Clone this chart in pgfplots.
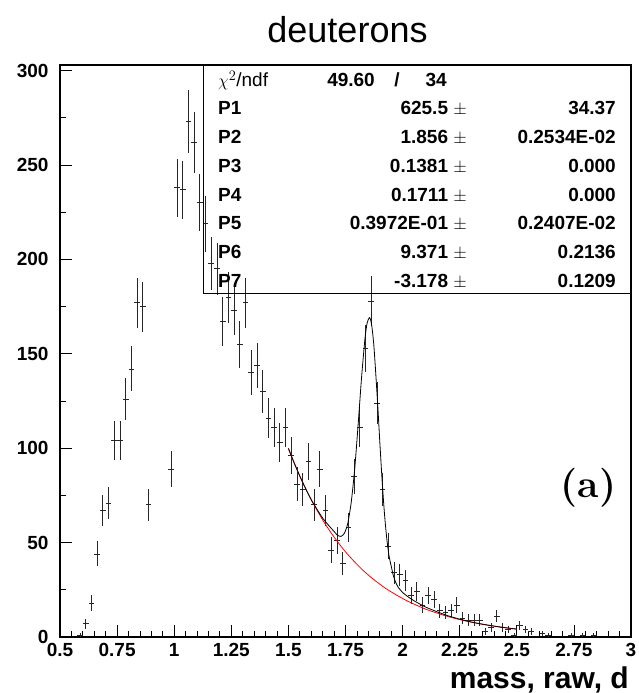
\documentclass[border=0pt]{standalone}
\usepackage{fontspec}
\setsansfont{Liberation Sans}
\usepackage{pgfplots}
\pgfplotsset{compat=1.18}
\usepackage{pgfplotstable}

\pgfplotstableread{
x y
0.5875 1
0.6125 7
0.6375 18
0.6625 44
0.6875 67
0.7125 71
0.7375 104
0.7625 104
0.7875 126
0.8125 142
0.8375 177
0.8625 175
0.8875 70
0.9875 89
1.0125 238
1.0375 237
1.0625 273
1.0875 262
1.1125 230
1.1375 219
1.1625 198
1.1875 195
1.2125 167
1.2375 180
1.2625 173
1.2875 155
1.3125 177
1.3375 140
1.3625 144
1.3875 130
1.4125 116
1.4375 111
1.4625 103
1.4875 111
1.5125 96
1.5375 81
1.5625 78
1.5875 93
1.6125 70
1.6375 89
1.6625 67
1.6875 46
1.7125 51
1.7375 39
1.7625 58
1.7875 85
1.8125 111
1.8375 153
1.8625 178
1.8875 124
1.9125 78
1.9375 48
1.9625 34
1.9875 33
2.0125 30
2.0375 22
2.0625 24
2.0875 17
2.1125 22
2.1375 20
2.1625 14
2.1875 13
2.2125 14
2.2375 17
2.2625 10
2.2875 9
2.3125 9
2.3375 9
2.3625 3
2.3875 5
2.4125 11
2.4375 5
2.4625 4
2.4875 1
2.5125 6
2.5375 4
2.5625 3
2.6125 2
2.6375 1
2.7375 1
2.7875 1
2.8375 1
}\datatable

\begin{document}
\begin{tikzpicture}
\begin{axis}[
  scale only axis, width=571pt, height=572pt,
  xmin=0.5, xmax=3, ymin=0, ymax=303,
  xtick={0.5,0.75,1,1.25,1.5,1.75,2,2.25,2.5,2.75,3},
  xticklabels={0.5,0.75,1,1.25,1.5,1.75,2,2.25,2.5,2.75,3},
  ytick={0,50,100,150,200,250,300},
  yticklabels={0,50,100,150,200,250,300},
  minor x tick num=4, minor y tick num=1,
  tick align=inside, xtick pos=bottom, ytick pos=left,
  major tick length=12pt, minor tick length=6pt,
  tick style={line width=0.8pt, black},
  axis line style={line width=1.2pt},
  ticklabel style={font=\sffamily\bfseries\fontsize{19}{19}\selectfont},
  xticklabel style={yshift=-3pt},
  yticklabel style={xshift=-8pt},
  /pgf/number format/assume math mode=true,
  clip=false,
]
\addplot[black!85, line width=0.8pt, mark=none, draw=none,
  error bars/.cd, x dir=both, x fixed=0.0125, y dir=both, y explicit,
  error mark=none, error bar style={line width=0.8pt, black!85}]
  table[x=x, y=y, y error expr={sqrt(\thisrow{y})}] {\datatable};
\addplot[red, line width=0.8pt] coordinates {
(1.500,99.9) (1.525,92.3) (1.550,85.2) (1.575,78.7) (1.600,72.7) (1.625,67.2)
(1.650,62.0) (1.675,57.3) (1.700,52.9) (1.725,48.9) (1.750,45.1) (1.775,41.7)
(1.800,38.5) (1.825,35.5) (1.850,32.8) (1.875,30.3) (1.900,28.0) (1.925,25.8)
(1.950,23.9) (1.975,22.1) (2.000,20.4) (2.025,18.8) (2.050,17.4) (2.075,16.1)
(2.100,14.8) (2.125,13.7) (2.150,12.7) (2.175,11.7) (2.200,10.8) (2.225,9.97)
(2.250,9.21) (2.275,8.51) (2.300,7.86) (2.325,7.26) (2.350,6.71) (2.375,6.19)
(2.400,5.72) (2.425,5.28) (2.450,4.88) (2.475,4.50) (2.500,4.16)};
\addplot[black, line width=0.8pt, smooth, tension=0.4] coordinates {
(1.500,99.9) (1.525,92.3) (1.550,85.2) (1.575,78.7) (1.600,72.7) (1.625,67.7)
(1.650,63.0) (1.675,59.3) (1.700,55.9) (1.715,53.9) (1.730,53.3) (1.745,54.9)
(1.760,60.2) (1.775,71.3) (1.790,88.6) (1.805,112.0) (1.820,137.0) (1.835,157.8)
(1.845,166.5) (1.856,169.2) (1.865,164.9) (1.875,153.1) (1.890,125.1) (1.900,103.7)
(1.910,83.5) (1.920,66.2) (1.930,52.9) (1.940,43.4) (1.950,37.6) (1.960,32.3)
(1.970,28.9) (1.980,26.5) (2.000,23.6) (2.025,21.2) (2.050,19.2) (2.075,17.5)
(2.100,15.9) (2.150,13.4) (2.200,11.2) (2.250,9.46) (2.300,8.0) (2.350,6.8)
(2.400,5.8) (2.450,4.93) (2.500,4.18)};
\node[font=\rmfamily\bfseries\fontsize{39}{39}\selectfont] at (axis cs:2.814,79) {(a)};
\coordinate (bl) at (rel axis cs:0,0);
\coordinate (tr) at (rel axis cs:1,1);
\coordinate (tc) at (rel axis cs:0.5,1);
\end{axis}
% stats box
\draw[line width=1pt] ([xshift=-428pt]tr) rectangle ([yshift=-229pt]tr);
\begin{scope}[every node/.style={inner sep=0pt, font=\sffamily\bfseries\fontsize{19}{19}\selectfont}]
\node[anchor=base west, font=\sffamily\fontsize{19}{19}\selectfont] at ([shift={(-413pt,-22pt)}]tr) {$\chi^{2}$/ndf};
\node[anchor=base east] at ([shift={(-256pt,-22pt)}]tr) {49.60};
\node[anchor=base] at ([shift={(-234pt,-22pt)}]tr) {/};
\node[anchor=base east] at ([shift={(-184pt,-22pt)}]tr) {34};
\foreach \lab/\val/\err/\yy in {P1/625.5/34.37/-50, P2/1.856/0.2534E-02/-78.7, P3/0.1381/0.000/-107.4, P4/0.1711/0.000/-136.1, P5/0.3972E-01/0.2407E-02/-164.8, P6/9.371/0.2136/-193.5, P7/-3.178/0.1209/-222.2}{
  \node[anchor=base west] at ([shift={(-413pt,\yy pt)}]tr) {\lab};
  \node[anchor=base east] at ([shift={(-164pt,\yy pt)}]tr) {\val\ {\normalfont$\pm$}};
  \node[anchor=base east] at ([shift={(-15pt,\yy pt)}]tr) {\err};
}
\end{scope}
\node[anchor=base, inner sep=0pt, font=\sffamily\fontsize{36}{36}\selectfont] at ([shift={(2pt,22pt)}]tc) {deuterons};
\node[anchor=base east, inner sep=0pt, font=\sffamily\bfseries\fontsize{30}{30}\selectfont] at ([shift={(-2pt,-51pt)}]bl -| tr) {mass, raw, d};
\pgfresetboundingbox
\path ([shift={(-60pt,-56pt)}]bl) rectangle ([shift={(7pt,65pt)}]tr);
\end{tikzpicture}
\end{document}
